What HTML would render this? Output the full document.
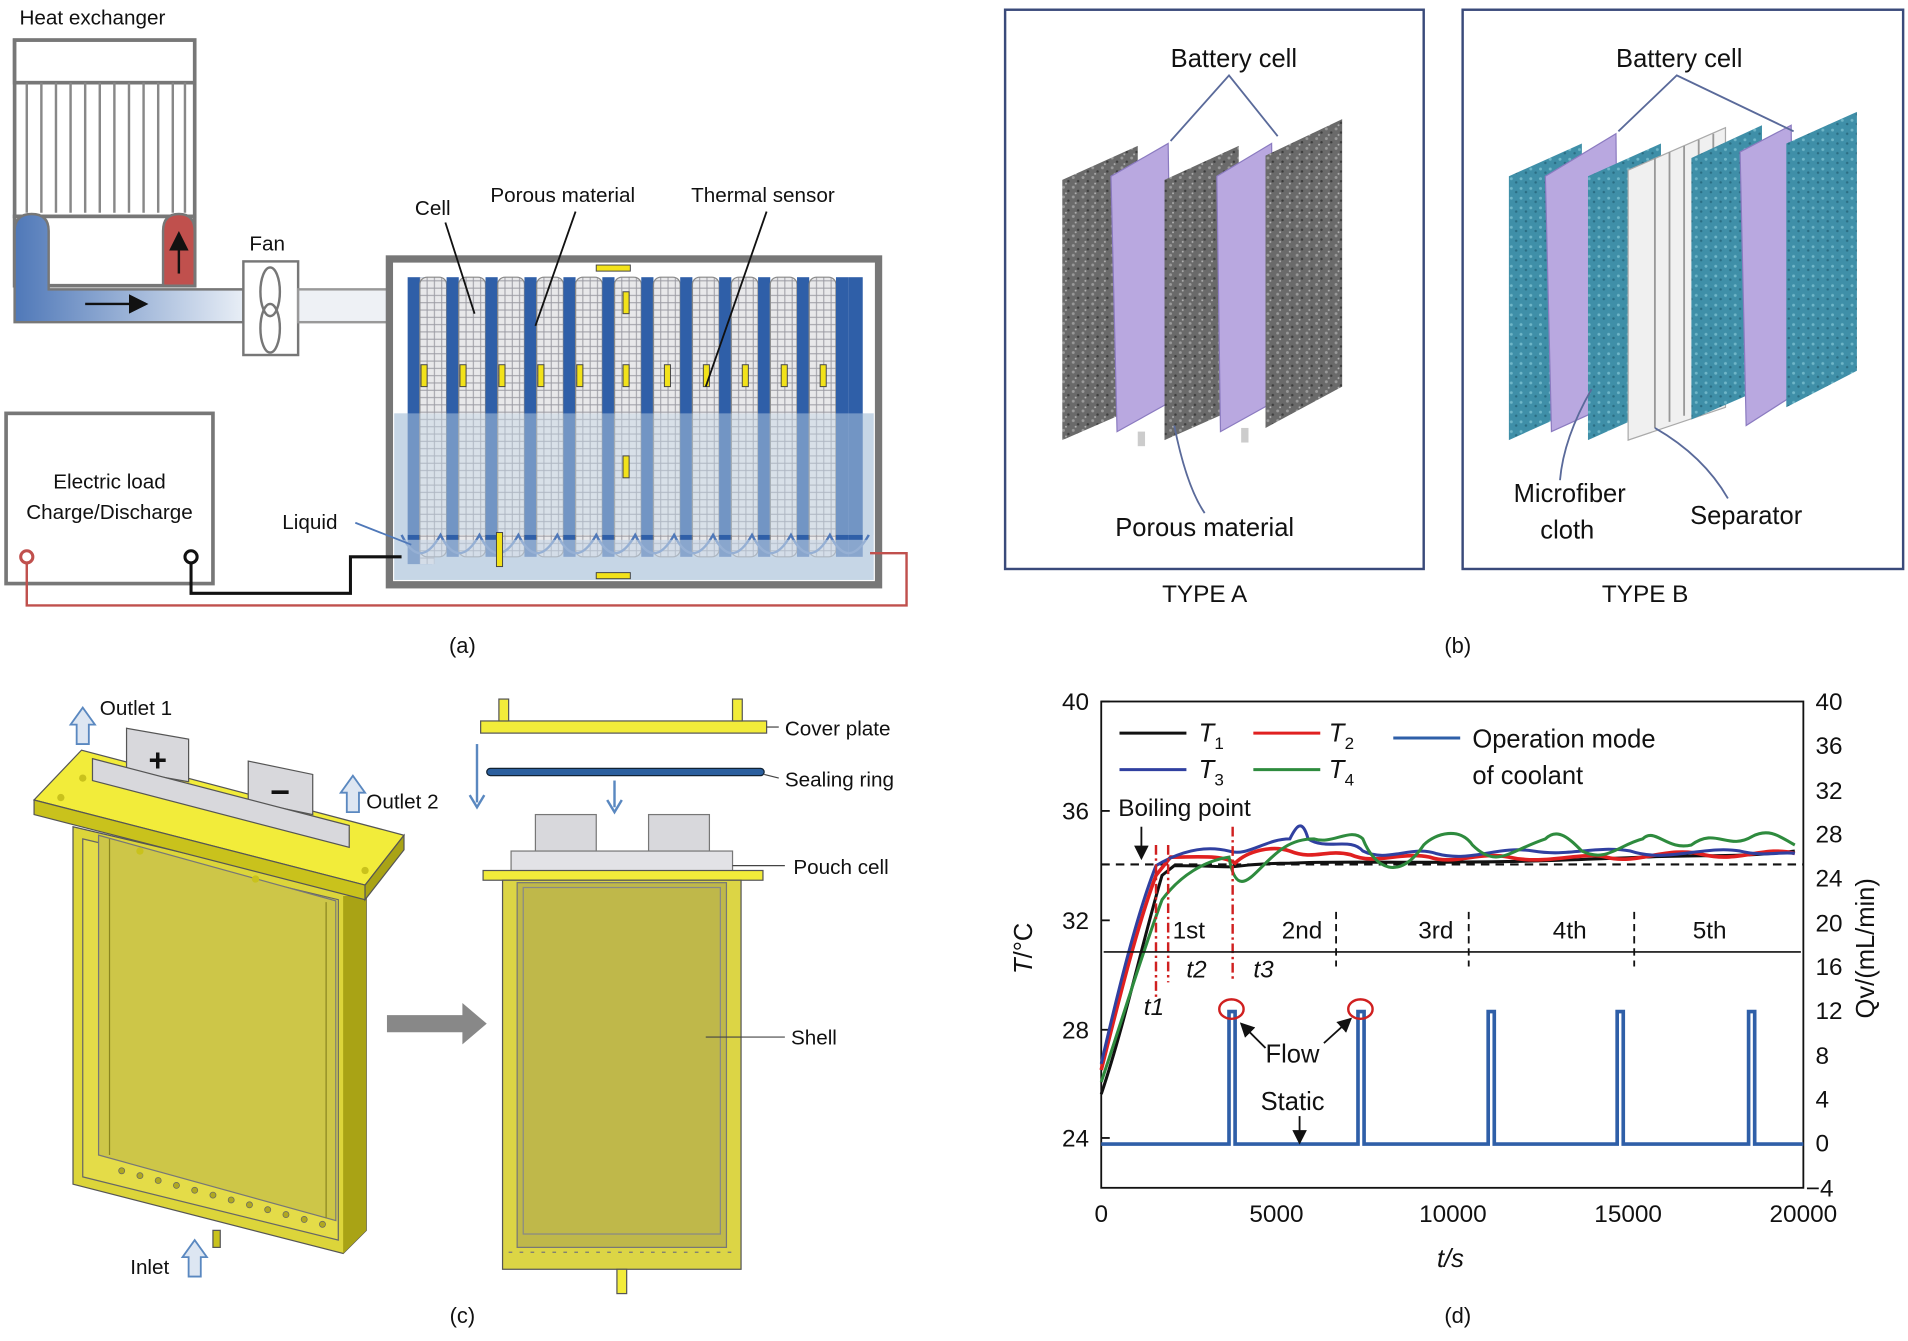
<!DOCTYPE html>
<html><head><meta charset="utf-8"><style>
html,body{margin:0;padding:0;background:#fff}
svg{display:block}
text{font-family:"Liberation Sans",Arial,sans-serif;fill:#111}
</style></head><body>
<svg width="1908" height="1341" viewBox="0 0 1568 1103" preserveAspectRatio="none" xmlns="http://www.w3.org/2000/svg">
<defs>
<linearGradient id="pipe" x1="0" x2="1" y1="0" y2="0"><stop offset="0" stop-color="#4f78b8"/><stop offset="1" stop-color="#e8eef6"/></linearGradient>
<pattern id="hatch" width="6" height="6" patternUnits="userSpaceOnUse"><rect width="6" height="6" fill="#e8e8ea"/><path d="M0 3H6M3 0V6" stroke="#9a9aa2" stroke-width="0.8"/></pattern>
<pattern id="foam" width="8" height="8" patternUnits="userSpaceOnUse"><rect width="8" height="8" fill="#6a6a6a"/><circle cx="2" cy="2" r="1.2" fill="#9a9a9a"/><circle cx="6" cy="5" r="1" fill="#3e3e3e"/><circle cx="4" cy="7" r="0.8" fill="#b0b0b0"/></pattern>
<pattern id="cloth" width="8" height="8" patternUnits="userSpaceOnUse"><rect width="8" height="8" fill="#3f8fa8"/><circle cx="2" cy="3" r="1.2" fill="#6fb6c8"/><circle cx="6" cy="6" r="1" fill="#2a6d83"/></pattern>
<marker id="ar" markerWidth="8" markerHeight="8" refX="7" refY="4" orient="auto"><path d="M0,0 L8,4 L0,8z" fill="#111"/></marker>
</defs>

<!-- ===== Panel (a) ===== -->
<text x="16" y="20" font-size="17">Heat exchanger</text>
<rect x="12" y="33" width="148" height="145" fill="#fff" stroke="#777" stroke-width="3"/>
<rect x="12" y="33" width="148" height="35" fill="#fff" stroke="#777" stroke-width="3"/>
<g stroke="#888" stroke-width="2">
<line x1="22" y1="68" x2="22" y2="175"/><line x1="34" y1="68" x2="34" y2="175"/><line x1="46" y1="68" x2="46" y2="175"/><line x1="58" y1="68" x2="58" y2="175"/><line x1="70" y1="68" x2="70" y2="175"/><line x1="82" y1="68" x2="82" y2="175"/><line x1="94" y1="68" x2="94" y2="175"/><line x1="106" y1="68" x2="106" y2="175"/><line x1="118" y1="68" x2="118" y2="175"/><line x1="130" y1="68" x2="130" y2="175"/><line x1="142" y1="68" x2="142" y2="175"/><line x1="152" y1="68" x2="152" y2="175"/>
</g>
<rect x="12" y="178" width="148" height="57" fill="#fff" stroke="#777" stroke-width="3"/>
<path d="M12 265 V190 Q12 176 26 176 Q40 176 40 190 V238 H200 V265 Z" fill="url(#pipe)" stroke="#777" stroke-width="2"/>
<path d="M134 235 V190 Q134 176 147 176 Q160 176 160 190 V235 Z" fill="#c0504d" stroke="#777" stroke-width="2"/>
<line x1="147" y1="225" x2="147" y2="192" stroke="#111" stroke-width="2" marker-end="url(#ar)"/>
<line x1="70" y1="250" x2="120" y2="250" stroke="#111" stroke-width="2" marker-end="url(#ar)"/>
<text x="205" y="206" font-size="17">Fan</text>
<rect x="200" y="215" width="45" height="77" fill="#fff" stroke="#777" stroke-width="2"/>
<ellipse cx="222" cy="240" rx="8" ry="20" fill="none" stroke="#777" stroke-width="2"/>
<ellipse cx="222" cy="270" rx="8" ry="20" fill="none" stroke="#777" stroke-width="2"/>
<rect x="245" y="238" width="75" height="27" fill="#eef1f5" stroke="#999" stroke-width="2"/>
<rect x="320" y="213" width="402" height="268" fill="#fff" stroke="#777" stroke-width="6"/>
<rect x="324" y="340" width="394" height="137" fill="#c6d6e6"/>
<g>
<rect x="335" y="228" width="20" height="236" fill="#2f5fa8"/><rect x="345" y="228" width="12" height="236" fill="url(#hatch)"/>
</g>
<g id="cells">
<rect x="345" y="228" width="22" height="230" rx="6" fill="url(#hatch)" stroke="#888"/>
<rect x="367" y="228" width="10" height="230" fill="#2f5fa8"/>
</g>
<use href="#cells" x="32"/><use href="#cells" x="64"/><use href="#cells" x="96"/><use href="#cells" x="128"/><use href="#cells" x="160"/><use href="#cells" x="192"/><use href="#cells" x="224"/><use href="#cells" x="256"/><use href="#cells" x="288"/><use href="#cells" x="320"/>
<rect x="697" y="228" width="12" height="230" fill="#2f5fa8"/>
<rect x="324" y="340" width="394" height="100" fill="#c6d6e6" opacity="0.45"/>
<path d="M330 440 Q345 470 362 440 Q377 470 394 440 Q409 470 426 440 Q441 470 458 440 Q473 470 490 440 Q505 470 522 440 Q537 470 554 440 Q569 470 586 440 Q601 470 618 440 Q633 470 650 440 Q665 470 682 440 Q697 470 714 440" fill="none" stroke="#4f78b8" stroke-width="2"/>
<rect x="324" y="444" width="394" height="33" fill="#c6d6e6" opacity="0.6"/>
<g fill="#f2e21a" stroke="#444" stroke-width="0.8">
<rect x="490" y="218" width="28" height="5"/><rect x="490" y="471" width="28" height="5"/>
<rect x="346" y="300" width="5" height="18"/><rect x="378" y="300" width="5" height="18"/><rect x="410" y="300" width="5" height="18"/><rect x="442" y="300" width="5" height="18"/><rect x="474" y="300" width="5" height="18"/><rect x="512" y="240" width="5" height="18"/><rect x="512" y="300" width="5" height="18"/><rect x="512" y="375" width="5" height="18"/><rect x="546" y="300" width="5" height="18"/><rect x="578" y="300" width="5" height="18"/><rect x="610" y="300" width="5" height="18"/><rect x="642" y="300" width="5" height="18"/><rect x="674" y="300" width="5" height="18"/><rect x="408" y="438" width="5" height="28"/>
</g>
<text x="341" y="177" font-size="17">Cell</text>
<line x1="366" y1="183" x2="390" y2="258" stroke="#111" stroke-width="1.5"/>
<text x="403" y="166" font-size="17">Porous material</text>
<line x1="473" y1="174" x2="440" y2="268" stroke="#111" stroke-width="1.5"/>
<text x="568" y="166" font-size="17">Thermal sensor</text>
<line x1="630" y1="174" x2="580" y2="318" stroke="#111" stroke-width="1.5"/>
<text x="232" y="435" font-size="17">Liquid</text>
<line x1="292" y1="430" x2="338" y2="448" stroke="#4f78b8" stroke-width="1.5"/>
<rect x="5" y="340" width="170" height="140" fill="#fff" stroke="#777" stroke-width="3"/>
<text x="90" y="402" font-size="17" text-anchor="middle">Electric load</text>
<text x="90" y="427" font-size="17" text-anchor="middle">Charge/Discharge</text>
<circle cx="22" cy="458" r="5" fill="#fff" stroke="#c0504d" stroke-width="2.5"/>
<circle cx="157" cy="458" r="5" fill="#fff" stroke="#111" stroke-width="2.5"/>
<path d="M157 463 V488 H288 V458 H330" fill="none" stroke="#111" stroke-width="2.5"/>
<path d="M22 463 V498 H745 V455 H715" fill="none" stroke="#c0504d" stroke-width="2"/>
<text x="380" y="537" font-size="18" text-anchor="middle">(a)</text>

<!-- ===== Panel (b) ===== -->
<rect x="826" y="8" width="344" height="460" fill="#fff" stroke="#3a4a7a" stroke-width="2"/>
<rect x="1202" y="8" width="362" height="460" fill="#fff" stroke="#3a4a7a" stroke-width="2"/>
<text x="1014" y="55" font-size="21" text-anchor="middle">Battery cell</text>
<text x="1380" y="55" font-size="21" text-anchor="middle">Battery cell</text>
<polygon points="873,148 935,120 935,335 873,362" fill="url(#foam)"/>
<polygon points="913,145 960,118 963,330 918,355" fill="#b9a8e0" stroke="#8b7bc0"/>
<rect x="935" y="355" width="6" height="12" fill="#ccc"/>
<polygon points="957,148 1018,120 1018,335 957,362" fill="url(#foam)"/>
<polygon points="1000,145 1045,118 1048,330 1003,355" fill="#b9a8e0" stroke="#8b7bc0"/>
<rect x="1020" y="352" width="6" height="12" fill="#ccc"/>
<polygon points="1040,128 1103,98 1103,318 1040,352" fill="url(#foam)"/>
<path d="M962 116 L1010 62 L1050 112" fill="none" stroke="#5a6a9a" stroke-width="1.5"/>
<path d="M965 350 Q975 400 990 422" fill="none" stroke="#5a6a9a" stroke-width="1.5"/>
<text x="990" y="441" font-size="21" text-anchor="middle">Porous material</text>
<text x="990" y="495" font-size="20" text-anchor="middle">TYPE A</text>
<polygon points="1240,145 1300,118 1300,335 1240,362" fill="url(#cloth)"/>
<polygon points="1270,145 1328,110 1330,330 1275,355" fill="#b9a8e0" stroke="#8b7bc0"/>
<polygon points="1305,145 1365,118 1365,335 1305,362" fill="url(#cloth)"/>
<polygon points="1338,140 1418,105 1418,335 1338,362" fill="#f0f0f0" stroke="#aaa"/>
<g stroke="#999" stroke-width="1.5"><line x1="1360" y1="130" x2="1360" y2="352"/><line x1="1372" y1="125" x2="1372" y2="347"/><line x1="1384" y1="120" x2="1384" y2="342"/><line x1="1396" y1="115" x2="1396" y2="338"/><line x1="1408" y1="110" x2="1408" y2="335"/></g>
<polygon points="1390,130 1448,103 1448,320 1390,345" fill="url(#cloth)"/>
<polygon points="1430,125 1472,103 1474,325 1435,350" fill="#b9a8e0" stroke="#8b7bc0"/>
<polygon points="1468,118 1526,92 1526,305 1468,335" fill="url(#cloth)"/>
<path d="M1330 108 L1378 62 L1474 108" fill="none" stroke="#5a6a9a" stroke-width="1.5"/>
<path d="M1308 320 Q1285 360 1282 395" fill="none" stroke="#5a6a9a" stroke-width="1.5"/>
<path d="M1360 352 Q1400 375 1420 410" fill="none" stroke="#5a6a9a" stroke-width="1.5"/>
<text x="1290" y="413" font-size="21" text-anchor="middle">Microfiber</text>
<text x="1288" y="443" font-size="21" text-anchor="middle">cloth</text>
<text x="1435" y="431" font-size="21" text-anchor="middle">Separator</text>
<text x="1352" y="495" font-size="20" text-anchor="middle">TYPE B</text>
<text x="1198" y="537" font-size="18" text-anchor="middle">(b)</text>

<!-- ===== Panel (c) ===== -->
<!-- body -->
<polygon points="60,680 301,737 301,1012 282,1031 60,974" fill="#dcd53a" stroke="#555"/>
<polygon points="282,737 301,737 301,1012 282,1031" fill="#a9a315"/>
<polygon points="68,690 278,740 278,1020 68,968" fill="#e4dc48" stroke="#666"/>
<polygon points="81,687 276,741 276,1004 81,950" fill="#cdc648" stroke="#777"/>
<line x1="90" y1="690" x2="90" y2="950" stroke="#8a8520"/><line x1="268" y1="742" x2="268" y2="1002" stroke="#8a8520"/>
<g fill="#b0a820" stroke="#666" stroke-width="0.6">
<circle cx="100" cy="963" r="2.5"/><circle cx="115" cy="967" r="2.5"/><circle cx="130" cy="971" r="2.5"/><circle cx="145" cy="975" r="2.5"/><circle cx="160" cy="979" r="2.5"/><circle cx="175" cy="983" r="2.5"/><circle cx="190" cy="987" r="2.5"/><circle cx="205" cy="991" r="2.5"/><circle cx="220" cy="995" r="2.5"/><circle cx="235" cy="999" r="2.5"/><circle cx="250" cy="1003" r="2.5"/><circle cx="265" cy="1007" r="2.5"/>
</g>
<rect x="175" y="1012" width="6" height="14" fill="#c9c21c" stroke="#555"/>
<!-- cover plate -->
<polygon points="28,658 67,617 332,687 300,728" fill="#f2ec3a" stroke="#555"/>
<polygon points="28,658 300,728 300,740 28,670" fill="#c9c21c" stroke="#555"/>
<polygon points="300,728 332,687 332,699 300,740" fill="#a9a315" stroke="#555"/>
<g fill="#c9c21c"><circle cx="50" cy="656" r="3"/><circle cx="115" cy="700" r="3"/><circle cx="210" cy="723" r="3"/><circle cx="300" cy="716" r="3"/><circle cx="68" cy="640" r="3"/></g>
<!-- tabs -->
<polygon points="104,599 155,608 155,643 104,634" fill="#d8d8dc" stroke="#555"/>
<polygon points="204,626 257,637 257,670 204,659" fill="#d8d8dc" stroke="#555"/>
<polygon points="76,624 287,679 287,697 76,642" fill="#d8d8dc" stroke="#555"/>
<text x="122" y="634" font-size="26" fill="#b11" font-weight="bold">+</text>
<text x="222" y="661" font-size="28" fill="#222" font-weight="bold">−</text>
<path d="M63 612 V596 H58 L68 582 L78 596 H73 V612Z" fill="#dde6f2" stroke="#5a88c0" stroke-width="1.5"/>
<text x="82" y="588" font-size="17">Outlet 1</text>
<path d="M285 668 V652 H280 L290 638 L300 652 H295 V668Z" fill="#dde6f2" stroke="#5a88c0" stroke-width="1.5"/>
<text x="301" y="665" font-size="17">Outlet 2</text>
<path d="M155 1050 V1034 H150 L160 1020 L170 1034 H165 V1050Z" fill="#dde6f2" stroke="#5a88c0" stroke-width="1.5"/>
<text x="107" y="1048" font-size="17">Inlet</text>
<polygon points="318,835 380,835 380,825 400,842 380,859 380,849 318,849" fill="#888"/>
<!-- right parts -->
<rect x="395" y="593" width="235" height="10" fill="#f2ec3a" stroke="#555"/>
<rect x="410" y="575" width="8" height="18" fill="#f2ec3a" stroke="#555"/><rect x="602" y="575" width="8" height="18" fill="#f2ec3a" stroke="#555"/>
<line x1="630" y1="598" x2="640" y2="598" stroke="#444"/>
<text x="645" y="605" font-size="17">Cover plate</text>
<rect x="400" y="632" width="228" height="6" rx="3" fill="#2b5f9e" stroke="#123"/>
<line x1="628" y1="637" x2="640" y2="640" stroke="#444"/>
<text x="645" y="647" font-size="17">Sealing ring</text>
<line x1="392" y1="612" x2="392" y2="660" stroke="#5a88c0" stroke-width="2"/><path d="M386 654 L392 664 L398 654" fill="none" stroke="#5a88c0" stroke-width="2"/>
<line x1="505" y1="642" x2="505" y2="664" stroke="#5a88c0" stroke-width="2"/><path d="M499 658 L505 668 L511 658" fill="none" stroke="#5a88c0" stroke-width="2"/>
<rect x="440" y="670" width="50" height="32" fill="#d8d8dc" stroke="#777"/>
<rect x="533" y="670" width="50" height="32" fill="#d8d8dc" stroke="#777"/>
<rect x="420" y="700" width="182" height="45" fill="#e2e2e6" stroke="#777"/>
<line x1="602" y1="712" x2="645" y2="712" stroke="#444"/>
<text x="652" y="719" font-size="17">Pouch cell</text>
<rect x="397" y="716" width="230" height="8" fill="#f2ec3a" stroke="#555"/>
<rect x="413" y="724" width="196" height="320" fill="#dcd545" stroke="#555"/>
<rect x="425" y="726" width="172" height="300" fill="#bfb84a" stroke="#777"/>
<rect x="430" y="730" width="162" height="285" fill="none" stroke="#888"/>
<line x1="418" y1="1030" x2="604" y2="1030" stroke="#777" stroke-dasharray="3,6"/>
<rect x="507" y="1044" width="8" height="20" fill="#f2ec3a" stroke="#555"/>
<line x1="580" y1="853" x2="645" y2="853" stroke="#444"/>
<text x="650" y="859" font-size="17">Shell</text>
<text x="380" y="1088" font-size="18" text-anchor="middle">(c)</text>

<!-- ===== Panel (d) ===== -->
<rect x="905" y="577" width="577" height="400" fill="#fff" stroke="#111" stroke-width="1.5"/>
<g font-size="20" text-anchor="end">
<text x="895" y="584">40</text><text x="895" y="674">36</text><text x="895" y="764">32</text><text x="895" y="854">28</text><text x="895" y="943">24</text>
</g>
<g stroke="#111" stroke-width="1.5"><line x1="905" y1="577" x2="912" y2="577"/><line x1="905" y1="667" x2="912" y2="667"/><line x1="905" y1="757" x2="912" y2="757"/><line x1="905" y1="847" x2="912" y2="847"/><line x1="905" y1="936" x2="912" y2="936"/></g>
<g font-size="20" text-anchor="start">
<text x="1492" y="584" fill="#2a2a5e">40</text><text x="1492" y="620" fill="#2a2a5e">36</text><text x="1492" y="657" fill="#2a2a5e">32</text><text x="1492" y="693" fill="#2a2a5e">28</text><text x="1492" y="729" fill="#2a2a5e">24</text><text x="1492" y="766" fill="#2a2a5e">20</text><text x="1492" y="802" fill="#2a2a5e">16</text><text x="1492" y="838" fill="#2a2a5e">12</text><text x="1492" y="875" fill="#2a2a5e">8</text><text x="1492" y="911" fill="#2a2a5e">4</text><text x="1492" y="947" fill="#2a2a5e">0</text><text x="1484" y="984" fill="#2a2a5e">−4</text>
</g>
<g font-size="20" text-anchor="middle">
<text x="905" y="1005">0</text><text x="1049" y="1005">5000</text><text x="1194" y="1005">10000</text><text x="1338" y="1005">15000</text><text x="1482" y="1005">20000</text>
</g>
<text x="1192" y="1042" font-size="21" text-anchor="middle" font-style="italic">t/s</text>
<text x="848" y="780" font-size="21" text-anchor="middle" transform="rotate(-90 848 780)"><tspan font-style="italic">T</tspan>/°C</text>
<text x="1540" y="780" font-size="21" text-anchor="middle" fill="#2a2a5e" transform="rotate(-90 1540 780)">Qv/(mL/min)</text>
<line x1="905" y1="711" x2="1482" y2="711" stroke="#111" stroke-width="1.8" stroke-dasharray="7,5"/>
<path d="M905 900 C925 840 940 770 955 720 L965 712 C990 712 1000 713 1012 713 C1020 712 1040 710 1060 710 C1100 708 1150 710 1200 709 C1250 709 1300 707 1350 705 C1400 703 1440 705 1475 700" fill="none" stroke="#111" stroke-width="2.5"/>
<path d="M905 880 C920 820 935 760 950 720 L962 705 C985 705 1005 703 1015 710 C1025 700 1045 695 1060 700 C1080 708 1090 698 1110 703 C1130 712 1150 700 1175 705 C1195 712 1215 700 1240 705 C1270 712 1300 700 1320 705 C1345 712 1370 695 1400 703 C1430 710 1450 695 1475 702" fill="none" stroke="#e02020" stroke-width="3"/>
<path d="M905 875 C920 810 935 750 950 712 C970 700 990 695 1010 700 C1025 705 1040 690 1060 690 C1065 680 1070 672 1075 690 C1090 700 1110 688 1120 700 C1140 710 1160 695 1180 702 C1210 710 1230 695 1260 700 C1290 705 1310 695 1340 700 C1370 710 1400 695 1430 700 C1450 705 1465 700 1475 702" fill="none" stroke="#3040a0" stroke-width="2.5"/>
<path d="M905 890 C925 830 940 780 955 740 C970 720 990 708 1010 705 C1015 735 1025 725 1035 715 C1050 700 1060 690 1080 690 C1095 695 1110 680 1120 690 C1130 715 1150 725 1170 695 C1180 685 1200 680 1210 695 C1230 715 1240 700 1270 690 C1280 680 1290 690 1300 700 C1320 710 1330 695 1350 690 C1360 680 1370 700 1390 695 C1410 680 1420 700 1440 688 C1455 680 1465 690 1475 695" fill="none" stroke="#2e8b3e" stroke-width="2.5"/>
<path d="M905 941 H1010 V832 H1015 V941 H1116 V832 H1121 V941 H1223 V832 H1228 V941 H1329 V832 H1334 V941 H1437 V832 H1442 V941 H1482" fill="none" stroke="#2f5fa8" stroke-width="3"/>
<g stroke="#d02020" stroke-width="2" stroke-dasharray="8,3,2,3"><line x1="950" y1="695" x2="950" y2="820"/><line x1="960" y1="695" x2="960" y2="808"/><line x1="1013" y1="680" x2="1013" y2="808"/></g>
<g font-size="20" font-style="italic"><text x="940" y="835" fill="#d02020">t1</text><text x="975" y="804" fill="#d02020">t2</text><text x="1030" y="804" fill="#d02020">t3</text></g>
<g stroke="#111" stroke-width="1.5" stroke-dasharray="6,4"><line x1="1098" y1="750" x2="1098" y2="795"/><line x1="1207" y1="750" x2="1207" y2="795"/><line x1="1343" y1="750" x2="1343" y2="795"/></g>
<g stroke="#111" stroke-width="1.3"><line x1="907" y1="783" x2="1480" y2="783"/></g>
<g font-size="20" text-anchor="middle"><text x="977" y="772">1st</text><text x="1070" y="772">2nd</text><text x="1180" y="772">3rd</text><text x="1290" y="772">4th</text><text x="1405" y="772">5th</text></g>
<text x="919" y="671" font-size="20">Boiling point</text>
<line x1="938" y1="680" x2="938" y2="706" stroke="#111" stroke-width="1.5" marker-end="url(#ar)"/>
<g stroke-width="2.5"><line x1="920" y1="603" x2="975" y2="603" stroke="#111"/><line x1="1030" y1="603" x2="1085" y2="603" stroke="#e02020"/><line x1="920" y1="633" x2="975" y2="633" stroke="#3040a0"/><line x1="1030" y1="633" x2="1085" y2="633" stroke="#2e8b3e"/><line x1="1145" y1="607" x2="1200" y2="607" stroke="#2f5fa8"/></g>
<g font-size="21"><text x="985" y="610" font-style="italic">T</text><text x="998" y="616" font-size="14">1</text>
<text x="1092" y="610" font-style="italic">T</text><text x="1105" y="616" font-size="14">2</text>
<text x="985" y="640" font-style="italic">T</text><text x="998" y="646" font-size="14">3</text>
<text x="1092" y="640" font-style="italic">T</text><text x="1105" y="646" font-size="14">4</text>
<text x="1210" y="615">Operation mode</text><text x="1210" y="645">of coolant</text></g>
<ellipse cx="1012" cy="830" rx="10" ry="8" fill="none" stroke="#d02020" stroke-width="2"/>
<ellipse cx="1118" cy="830" rx="10" ry="8" fill="none" stroke="#d02020" stroke-width="2"/>
<text x="1040" y="874" font-size="21">Flow</text>
<line x1="1040" y1="862" x2="1020" y2="842" stroke="#111" stroke-width="1.5" marker-end="url(#ar)"/>
<line x1="1088" y1="858" x2="1110" y2="838" stroke="#111" stroke-width="1.5" marker-end="url(#ar)"/>
<text x="1036" y="913" font-size="21">Static</text>
<line x1="1068" y1="918" x2="1068" y2="940" stroke="#111" stroke-width="1.5" marker-end="url(#ar)"/>
<text x="1198" y="1088" font-size="18" text-anchor="middle">(d)</text>
</svg>
</body></html>
